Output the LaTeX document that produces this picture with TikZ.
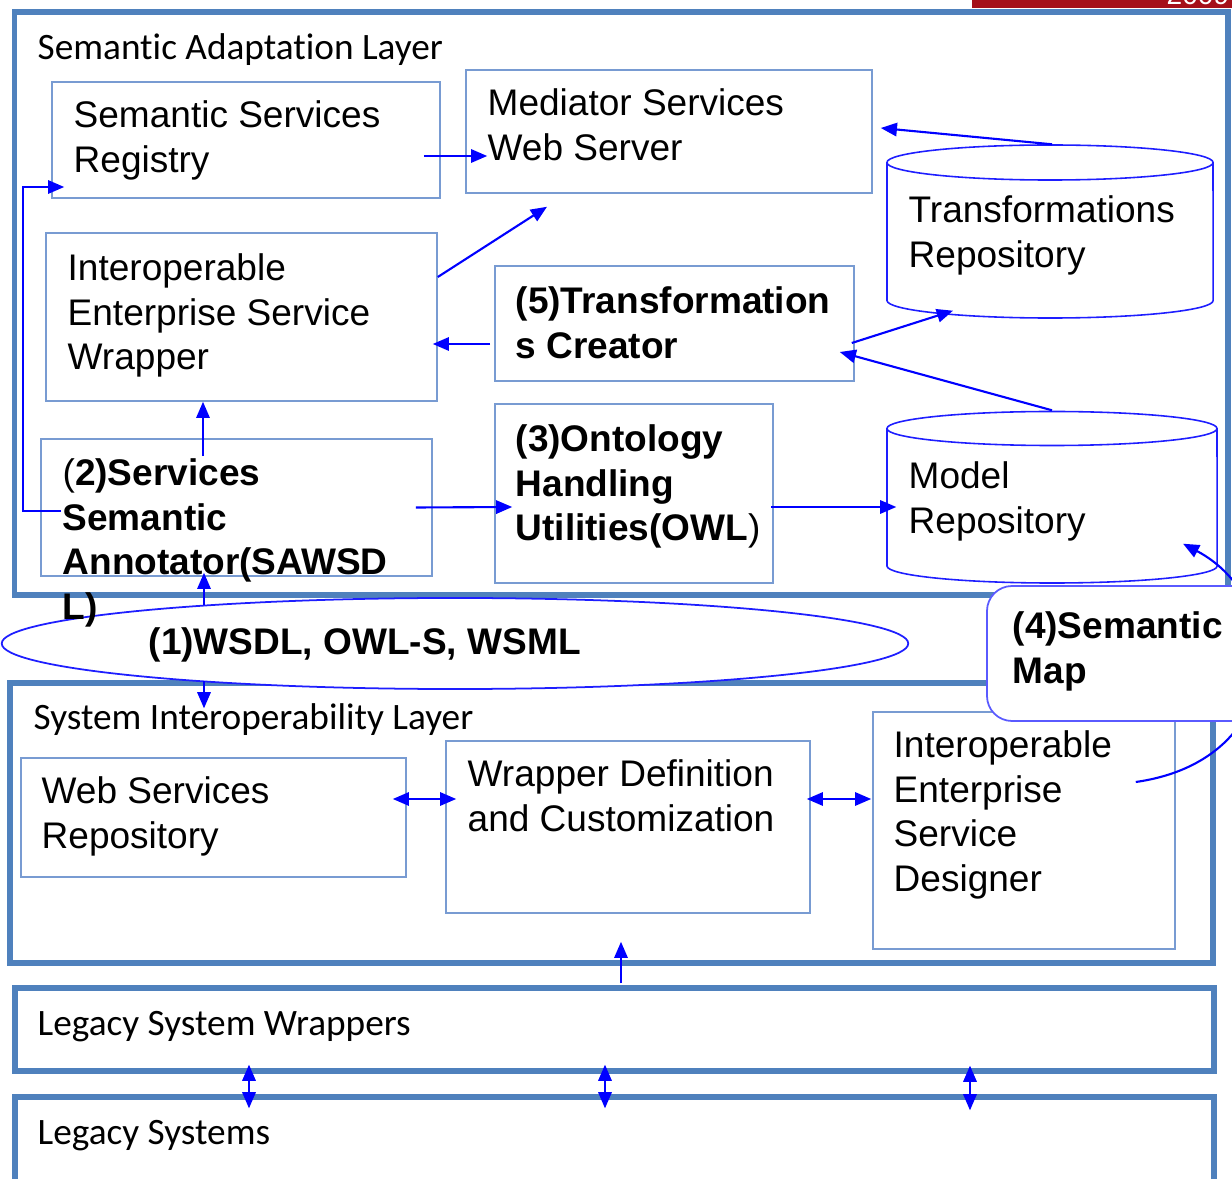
\documentclass[tikz,border=0pt]{standalone}
\usepackage{fontspec}
\setmainfont{Liberation Sans}
\newfontfamily\calfont[Ligatures=NoCommon]{Carlito}
\usetikzlibrary{arrows.meta,fit,calc,shapes.geometric}

\definecolor{layerblue}{RGB}{79,129,189}
\definecolor{boxblue}{RGB}{120,155,210}
\definecolor{linkblue}{RGB}{0,0,255}
\definecolor{cylblue}{RGB}{30,30,255}
\definecolor{mapblue}{RGB}{90,90,255}
\definecolor{bannerred}{RGB}{165,15,25}

\tikzset{
  layer/.style={draw=layerblue, line width=1.5pt, inner sep=0pt},
  box/.style={draw=boxblue, line width=0.45pt, inner sep=0pt},
  cyl/.style={draw=cylblue, line width=0.45pt},
  body/.style={font=\fontsize{10.53pt}{12.72pt}\selectfont, anchor=north west, inner sep=0pt, align=left},
  bodybold/.style={body, font=\fontsize{10.53pt}{12.72pt}\selectfont\bfseries},
  laylabel/.style={font=\calfont\fontsize{10.6pt}{12.72pt}\selectfont, anchor=base west, inner sep=0pt},
  tip/.tip={Triangle[length=4.6pt,width=3.8pt]},
  link/.style={draw=linkblue, line width=0.6pt, -tip},
  dlink/.style={draw=linkblue, line width=0.6pt, tip-tip},
}

\begin{document}
\begin{tikzpicture}[x=0.01cm, y=-0.01cm]
\useasboundingbox (0,0) rectangle (1232,1179);
\clip (0,0) rectangle (1232,1179);

% banner strip at the top right
\fill[bannerred] (972,-2) rectangle (1232,8);
\begin{scope}
  \clip (972,0) rectangle (1232,8);
  \node[anchor=base west, inner sep=0pt, text=white, font=\fontsize{8pt}{9pt}\selectfont] (year) at (1166,5) {2009};
\end{scope}

% layers
\node[layer, fit={(14.5,12) (1228,595)}] (sal) {};
\node[layer, fit={(10,683) (1213,963)}] (sil) {};
\node[layer, fit={(15,988) (1214,1071)}] (lsw) {};
\node[layer, fit={(15,1097) (1214,1185)}] (ls) {};

% description formats
\node[draw=cylblue, line width=0.5pt, fill=white, ellipse, inner sep=0pt,
      minimum width=9.06cm, minimum height=0.91cm] (formats) at (455,643.5) {};

% component boxes
\node[box, fit={(52,82) (440,198)}] (registry) {};
\node[box, fit={(466,70) (872,193)}] (mediator) {};
\node[box, fit={(46,233) (437,401)}] (iesw) {};
\node[box, fit={(495,266) (854,381)}] (tcreator) {};
\node[box, fit={(41,439) (432,576)}] (annot) {};
\node[box, fit={(495,404) (773,583)}] (onto) {};
\node[box, fit={(21,758) (406,877)}] (wsrepo) {};
\node[box, fit={(446,741) (810,913)}] (wdc) {};
\node[box, fit={(873,712) (1175,949)}] (designer) {};

% repositories (cylinders)
\draw[cyl] (887,162.5) -- (887,300.5) arc[start angle=180, end angle=360, x radius=1.63cm, y radius=0.175cm] -- (1213,162.5);
\draw[cyl] (1050,162.5) ellipse [x radius=1.63cm, y radius=0.175cm];
\node[inner sep=0pt, fit={(887,145) (1213,318)}] (trepo) {};

\draw[cyl] (887,428.5) -- (887,566) arc[start angle=180, end angle=360, x radius=1.65cm, y radius=0.17cm] -- (1217,428.5);
\draw[cyl] (1052,428.5) ellipse [x radius=1.65cm, y radius=0.17cm];
\node[inner sep=0pt, fit={(887,411) (1217,583)}] (mrepo) {};

% semantic map link from the designer to the model repository
\draw[link] ($(designer.east)+(-40,-48.5)$) .. controls (1290,760) and (1290,600) .. ($(mrepo.south)+(131,-40)$);

% semantic map callout
\node[draw=mapblue, line width=0.5pt, fill=white, rounded corners=0.25cm, inner sep=0pt,
      fit={(987,586) (1262,721)}] (smap) {};

% texts
\node[laylabel] (salt) at (37,60) {Semantic Adaptation Layer};
\node[laylabel] (silt) at (33,730) {System Interoperability Layer};
\node[laylabel] (lswt) at (37,1036) {Legacy System Wrappers};
\node[laylabel] (lst) at (37,1145) {Legacy Systems};

\node[body] (registryt) at (73,100) {Semantic Services\\Registry};
\node[body] (mediatort) at (487,88) {Mediator Services\\Web Server};
\node[body] (ieswt) at (67,253) {Interoperable\\Enterprise Service\\Wrapper};
\node[bodybold] (tcreatort) at (515,286) {(5)Transformation\\s Creator};
\node[bodybold] (annott) at (62,458) {{\mdseries (}2)Services\\Semantic\\Annotator(SAWSD\\L)};
\node[bodybold] (ontot) at (515,424) {(3)Ontology\\Handling\\Utilities(OWL{\mdseries )}};
\node[body] (trepot) at (908,195) {Transformations\\Repository};
\node[body] (mrepot) at (908,461) {Model\\Repository};
\node[bodybold, anchor=base west] (formatst) at (148,655) {(1)WSDL, OWL-S, WSML};
\node[bodybold] (smapt) at (1012,611) {(4)Semantic\\Map};
\node[body] (wsrepot) at (41,776) {Web Services\\Repository};
\node[body] (wdct) at (467,759) {Wrapper Definition\\and Customization};
\node[body] (designert) at (893,730) {Interoperable\\Enterprise\\Service\\Designer};

% connectors
\draw[link] ($(registry.east)+(-17,16)$) -- ($(mediator.west)+(22,24.5)$);
\draw[link] ($(annot.west)+(21,3.5)$) -- ++(-38,0) |- ($(registry.west)+(13,47)$);
\draw[link] ($(iesw.east)+(0,-40)$) -- ($(mediator.south)+(-122,13)$);
\draw[link] ($(tcreator.west)+(-4,20.5)$) -- ($(iesw.east)+(-5,27)$);
\draw[link] ($(annot.north)+(-33.5,18)$) -- ($(iesw.south)+(-38.5,0)$);
\draw[link] ($(trepo.north)+(2,0)$) -- ($(mediator.east)+(8,-3.5)$);
\draw[link] ($(tcreator.east)+(-3,19.5)$) -- ($(trepo.south)+(-97,-8)$);
\draw[link] (mrepo.north) -- ($(tcreator.east)+(-15,28.5)$);
\draw[link] ($(annot.east)+(-17,0)$) -- ($(onto.west)+(18,13.5)$);
\draw[link] ($(onto.east)+(-3,13.5)$) -- ($(mrepo.west)+(10,10)$);
\draw[link] ($(formats.center)+(-251,-38)$) -- ($(annot.south)+(-32.5,-4)$);
\draw[link] ($(formats.center)+(-251,38)$) -- ($(sil.north -| formats.center)+(-251,28)$);
\draw[dlink] ($(wsrepo.east)+(-14,-18.5)$) -- ($(wdc.west)+(11,-28)$);
\draw[dlink] ($(wdc.east)+(-4,-28)$) -- ($(designer.west)+(-1,-31.5)$);
\draw[link] ($(lsw.north)+(6.5,-2)$) -- ($(wdc.south)+(-7,28)$);
\draw[dlink] ($(lsw.south)+(-365.5,-9)$) -- ($(ls.north)+(-365.5,14)$);
\draw[dlink] ($(lsw.south)+(-9.5,-9)$) -- ($(ls.north)+(-9.5,14)$);
\draw[dlink] ($(lsw.south)+(355.5,-8)$) -- ($(ls.north)+(355.5,16)$);
\end{tikzpicture}
\end{document}
